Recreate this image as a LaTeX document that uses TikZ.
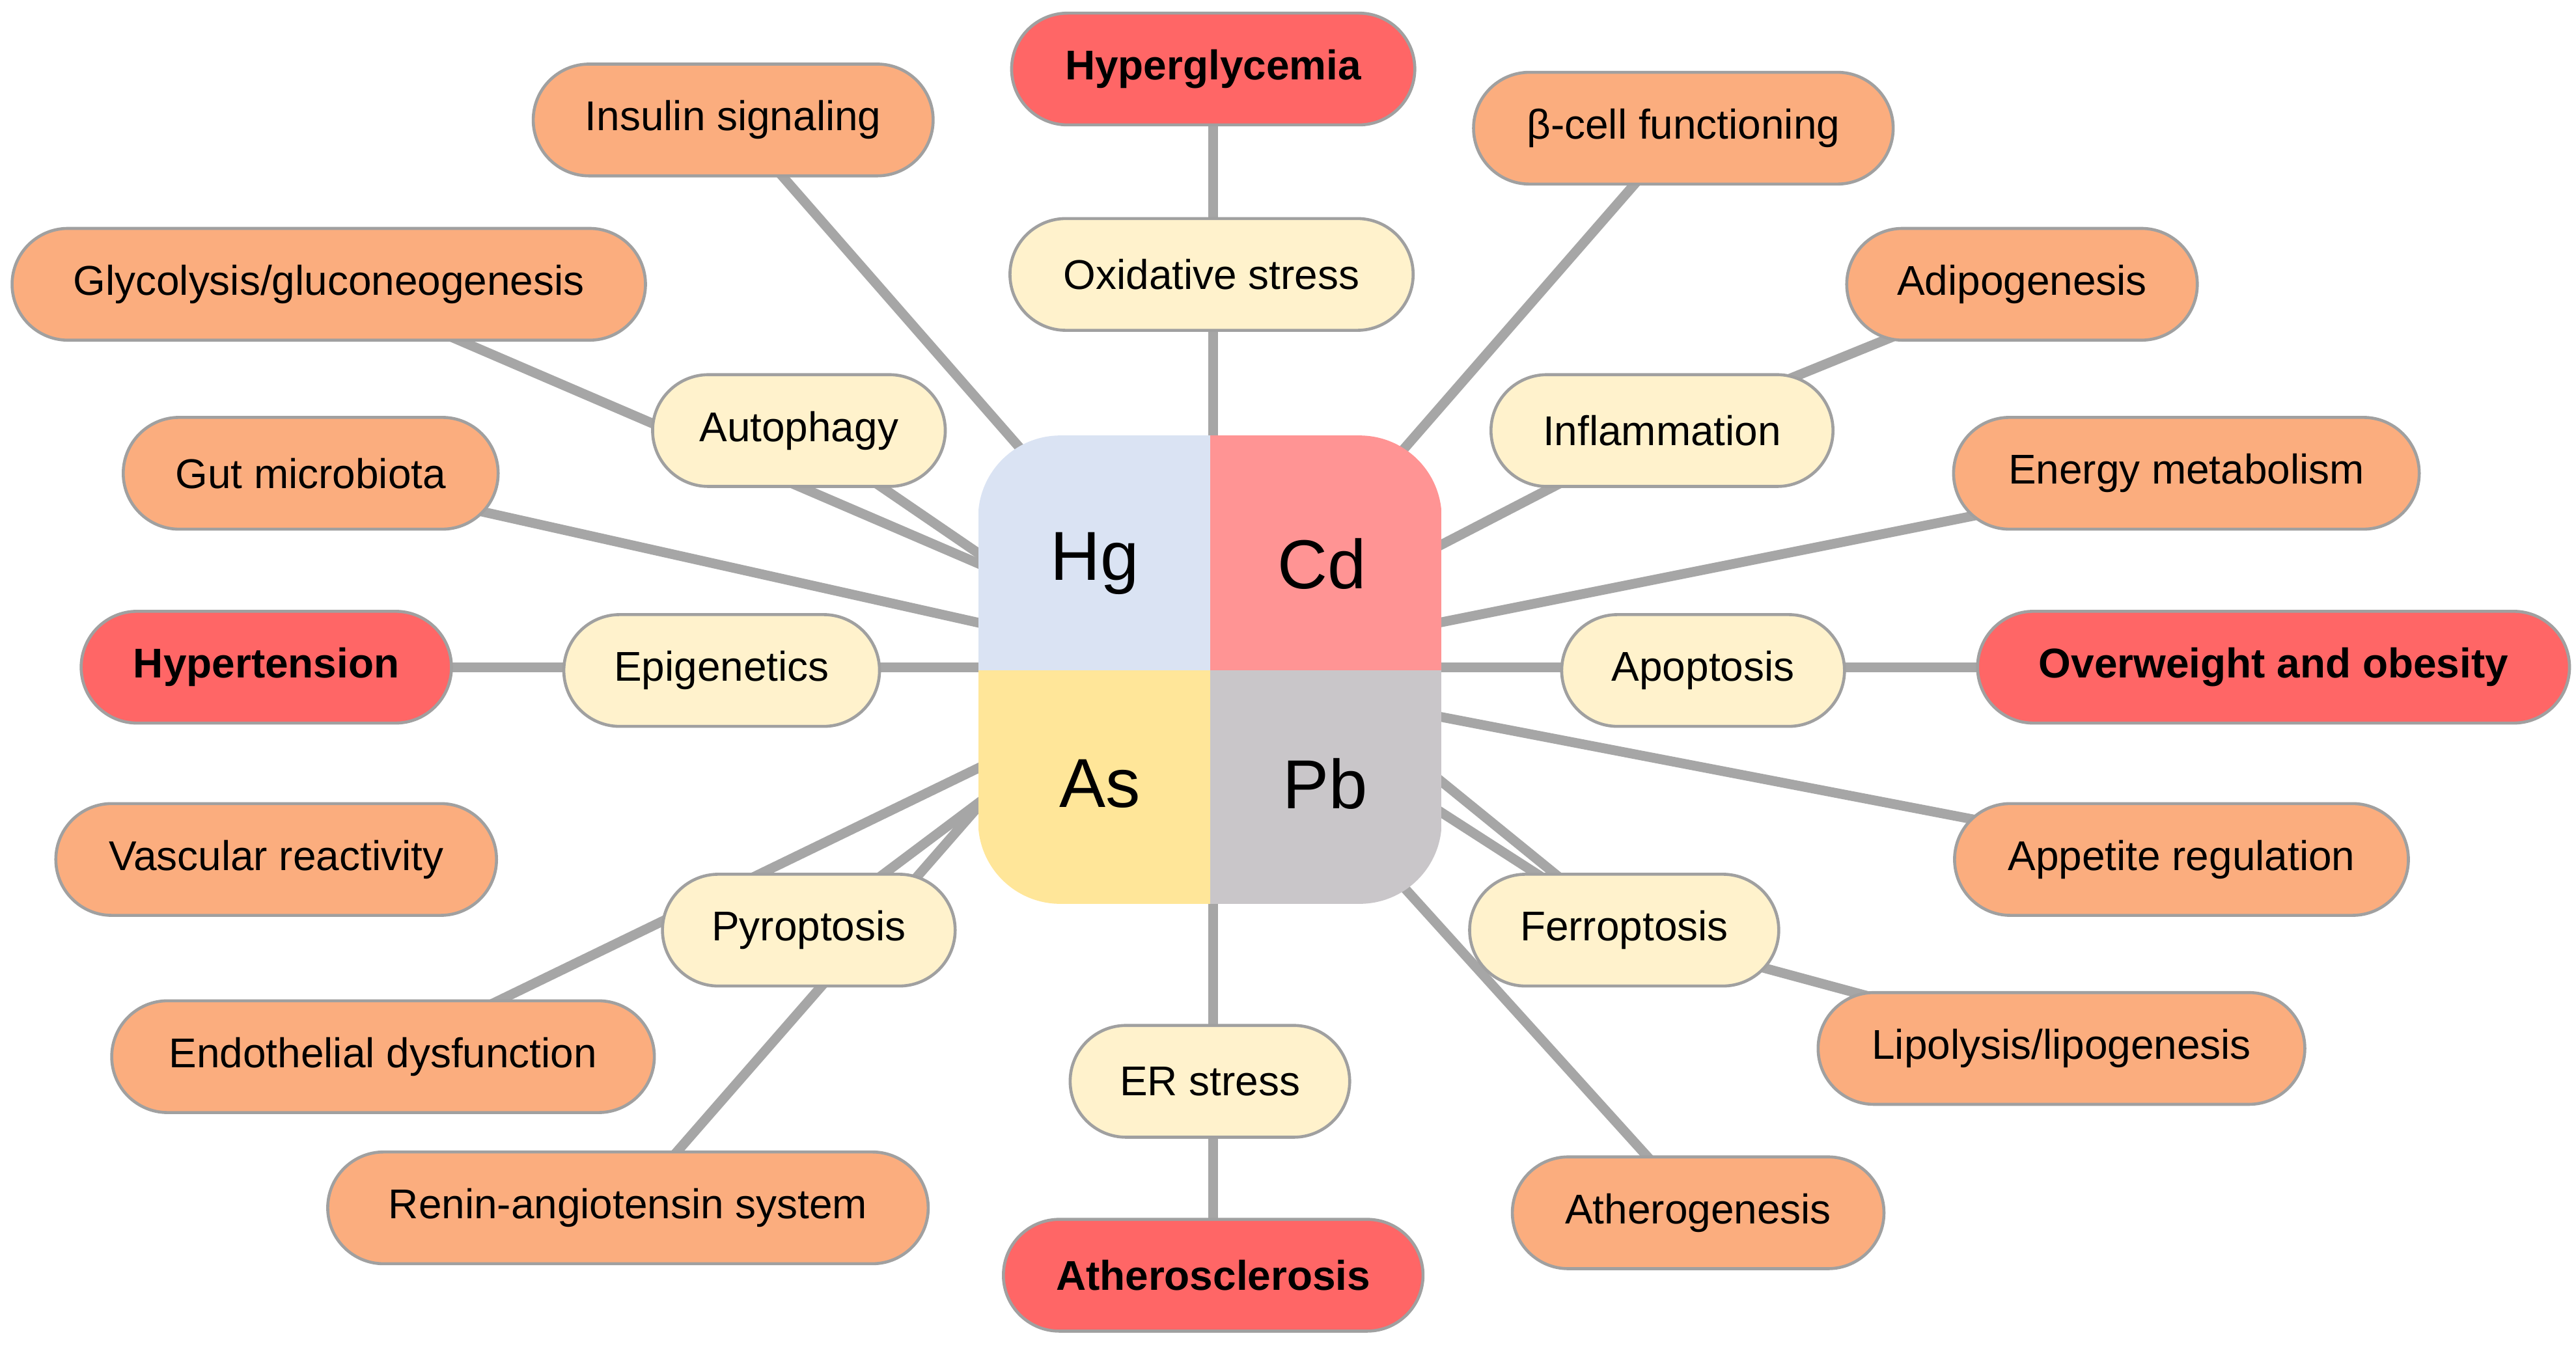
\documentclass[tikz,border=0pt]{standalone}
\usepackage{fontspec}
\setmainfont{Liberation Sans}
\definecolor{orn}{HTML}{FBAD7E}
\definecolor{rd}{HTML}{FF6666}
\definecolor{ylw}{HTML}{FFF2CC}
\definecolor{ln}{HTML}{A6A6A6}
\definecolor{bd}{HTML}{A0A0A0}
\definecolor{qhg}{HTML}{DAE3F3}
\definecolor{qcd}{HTML}{FF9494}
\definecolor{qas}{HTML}{FFE699}
\definecolor{qpb}{HTML}{C9C6C9}
\begin{document}
\begin{tikzpicture}[x=0.025cm,y=-0.025cm,
  box/.style={draw=bd,line width=1.3pt,rounded corners=0.85cm,minimum height=1.7cm,inner sep=0pt,font=\fontsize{18}{21}\selectfont},
  ob/.style={box,fill=orn},
  rb/.style={box,fill=rd,font=\fontsize{18}{21}\selectfont\bfseries},
  yb/.style={box,fill=ylw},
  con/.style={ln,line width=4.2pt},
  big/.style={font=\fontsize{30}{34}\selectfont}]
\useasboundingbox (0,0) rectangle (1567,822);
% anchor coordinates on the central square
\coordinate (C) at (736,408);
\coordinate (sIns) at (640,295);
\coordinate (sBeta) at (835,295);
\coordinate (sGly) at (600,345);
\coordinate (sAut) at (600,340);
\coordinate (sGut) at (600,380);
\coordinate (sEnd) at (600,465);
\coordinate (sPyr) at (600,485);
\coordinate (sRen) at (615,468);
\coordinate (sInf) at (870,335);
\coordinate (sEne) at (870,380);
\coordinate (sApp) at (870,435);
\coordinate (sFer) at (870,470);
\coordinate (sLip) at (870,490);
\coordinate (sAth) at (845,530);
% nodes coordinates (drawn later)
\coordinate (pHyg) at (738,42);
\coordinate (pAts) at (738,776);
\coordinate (pIns) at (446,73);
\coordinate (pBeta) at (1024,78);
\coordinate (pGly) at (200,173);
\coordinate (pAdi) at (1230,173);
\coordinate (pAut) at (486,262);
\coordinate (pInf) at (1011,262);
\coordinate (pGut) at (189,288);
\coordinate (pEne) at (1330,288);
\coordinate (pHyt) at (162,406);
\coordinate (pEpi) at (439,408);
\coordinate (pApo) at (1036,408);
\coordinate (pOvw) at (1383,406);
\coordinate (pApp) at (1327,523);
\coordinate (pPyr) at (492,566);
\coordinate (pFer) at (988,566);
\coordinate (pEnd) at (233,643);
\coordinate (pLip) at (1254,638);
\coordinate (pRen) at (382,735);
\coordinate (pAtg) at (1033,738);
% connectors
\draw[con] (pHyg) -- (pAts);
\draw[con] (pHyt) -- (pOvw);
\draw[con] (pIns) -- (sIns);
\draw[con] (pBeta) -- (sBeta);
\draw[con] (pGly) -- (sGly);
\draw[con] (pAut) -- (sAut);
\draw[con] (pGut) -- (sGut);
\draw[con] (pEnd) -- (sEnd);
\draw[con] (pPyr) -- (sPyr);
\draw[con] (pRen) -- (sRen);
\draw[con] (pAdi) -- (pInf);
\draw[con] (pInf) -- (sInf);
\draw[con] (pEne) -- (sEne);
\draw[con] (pApp) -- (sApp);
\draw[con] (pFer) -- (sFer);
\draw[con] (pLip) -- (pFer);
\draw[con] (pFer) -- (sLip);
\draw[con] (pAtg) -- (sAth);
% central square
\begin{scope}
\clip[rounded corners=1.25cm] (595,265) rectangle (877,550);
\fill[qhg] (595,265) rectangle (736,408);
\fill[qcd] (736,265) rectangle (877,408);
\fill[qas] (595,408) rectangle (736,550);
\fill[qpb] (736,408) rectangle (877,550);
\end{scope}
\node[big] (Hg) at (666,343) {Hg};
\node[big] (Cd) at (804,343) {Cd};
\node[big] (As) at (669,477) {As};
\node[big] (Pb) at (806,477) {Pb};
% boxes
\node[rb,minimum width=6.13cm] (Hyg) at (pHyg) {Hyperglycemia};
\node[rb,minimum width=6.38cm] (Ats) at (pAts) {Atherosclerosis};
\node[rb,minimum width=5.63cm] (Hyt) at (pHyt) {Hypertension};
\node[rb,minimum width=9.0cm] (Ovw) at (pOvw) {Overweight and obesity};
\node[ob,minimum width=6.08cm] (Ins) at (pIns) {Insulin signaling};
\node[ob,minimum width=6.38cm] (Beta) at (pBeta) {β-cell functioning};
\node[ob,minimum width=9.63cm] (Gly) at (pGly) {Glycolysis/gluconeogenesis};
\node[ob,minimum width=5.33cm] (Adi) at (pAdi) {Adipogenesis};
\node[ob,minimum width=5.7cm] (Gut) at (pGut) {Gut microbiota};
\node[ob,minimum width=7.08cm] (Ene) at (pEne) {Energy metabolism};
\node[ob,minimum width=6.7cm] (Vas) at (168,523) {Vascular reactivity};
\node[ob,minimum width=6.9cm] (App) at (pApp) {Appetite regulation};
\node[ob,minimum width=8.25cm] (End) at (pEnd) {Endothelial dysfunction};
\node[ob,minimum width=7.4cm] (Lip) at (pLip) {Lipolysis/lipogenesis};
\node[ob,minimum width=9.13cm] (Ren) at (pRen) {Renin-angiotensin system};
\node[ob,minimum width=5.65cm] (Atg) at (pAtg) {Atherogenesis};
\node[yb,minimum width=6.13cm] (Oxi) at (737,167) {Oxidative stress};
\node[yb,minimum width=4.45cm] (Aut) at (pAut) {Autophagy};
\node[yb,minimum width=5.2cm] (Inf) at (pInf) {Inflammation};
\node[yb,minimum width=4.8cm] (Epi) at (pEpi) {Epigenetics};
\node[yb,minimum width=4.3cm] (Apo) at (pApo) {Apoptosis};
\node[yb,minimum width=4.45cm] (Pyr) at (pPyr) {Pyroptosis};
\node[yb,minimum width=4.7cm] (Fer) at (pFer) {Ferroptosis};
\node[yb,minimum width=4.25cm] (ER) at (736,658) {ER stress};
\end{tikzpicture}
\end{document}
